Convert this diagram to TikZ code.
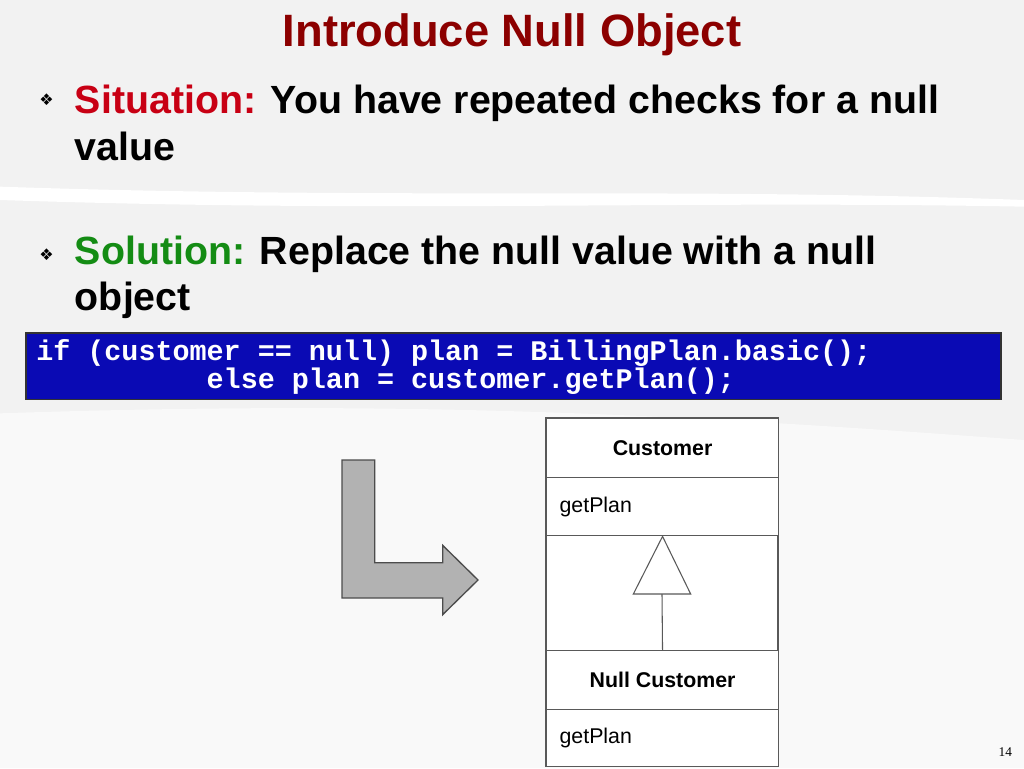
\documentclass[tikz,border=0pt]{standalone}
\usepackage{fontspec}
\setmainfont{Liberation Sans}
\newfontfamily\codefont{Liberation Mono}
\newfontfamily\symfont{DejaVu Sans}
\newfontfamily\pgfont{Liberation Serif}
\definecolor{titlered}{RGB}{140,0,0}
\definecolor{sitred}{RGB}{200,0,20}
\definecolor{solgreen}{RGB}{20,140,20}
\definecolor{codeblue}{RGB}{10,10,180}
\begin{document}
\begin{tikzpicture}[x=1pt,y=-1pt,
  txt/.style={anchor=base west,inner sep=0pt,font=\fontsize{29.5}{34}\selectfont\bfseries},
  bul/.style={inner sep=0pt,font=\symfont\fontsize{12}{12}\selectfont},
  umlbox/.style={draw=gray!70!black,line width=0.8pt,fill=white},
  uml/.style={font=\fontsize{16}{19}\selectfont,inner sep=0pt}]
\useasboundingbox (0,0) rectangle (768,576);
\fill[gray!10] (0,0) rectangle (768,576);
\fill[white] (0,140) .. controls (300,150) and (500,140) .. (768,150) -- (768,155) .. controls (500,150) and (300,160) .. (0,150) -- cycle;
\fill[gray!5] (0,310) .. controls (300,300) and (500,310) .. (768,330) -- (768,576) -- (0,576) -- cycle;
\node[anchor=base,inner sep=0pt,text=titlered,font=\fontsize{34}{40}\selectfont\bfseries] (title) at (384,35) {Introduce Null Object};
\node[bul] (b1) at (35,75) {❖};
\node[txt] (s1) at (56,85) {\textcolor{sitred}{Situation:} You have repeated checks for a null};
\node[txt] (s2) at (56,120) {value};
\node[bul] (b2) at (35,191) {❖};
\node[txt] (s3) at (56,198) {\textcolor{solgreen}{Solution:} Replace the null value with a null};
\node[txt] (s4) at (56,233) {object};
\node[draw=black!80,line width=1.2pt,fill=codeblue,minimum width=731pt,minimum height=50pt,anchor=north west,inner sep=0pt] (code) at (19,249) {};
\node[anchor=base west,inner sep=0pt,text=white,font=\codefont\fontsize{21.3}{23}\selectfont\bfseries] (c1) at (27,270) {if (customer == null) plan = BillingPlan.basic();};
\node[anchor=base west,inner sep=0pt,text=white,font=\codefont\fontsize{21.3}{23}\selectfont\bfseries] (c2) at (27,291) {\phantom{if (custom}else plan = customer.getPlan();};
\draw[gray!60!black,fill=gray!60,line width=1pt] (256.5,345)--(281,345)--(281,422)--(332,422)--(332,409)--(358.5,435)--(332,461)--(332,448.5)--(256.5,448.5)--cycle;
\draw[umlbox] (409.5,313.5) rectangle (583.5,574.5);
\node[umlbox,minimum width=174pt,minimum height=44pt,anchor=north west,inner sep=0pt] (cust) at (409.5,313.5) {};
\node[uml,font=\fontsize{16}{19}\selectfont\bfseries] at (cust.center) {Customer};
\node[umlbox,minimum width=174pt,minimum height=44pt,anchor=north west,inner sep=0pt] (custm) at (409.5,357.5) {};
\node[uml,anchor=west] at ([xshift=10pt]custm.west) {getPlan};
\node[umlbox,minimum width=174pt,minimum height=44pt,anchor=north west,inner sep=0pt] (nc) at (409.5,487.5) {};
\node[uml,font=\fontsize{16}{19}\selectfont\bfseries] at (nc.center) {Null Customer};
\node[umlbox,minimum width=174pt,minimum height=43pt,anchor=north west,inner sep=0pt] (ncm) at (409.5,531.5) {};
\node[uml,anchor=west] at ([xshift=10pt]ncm.west) {getPlan};
\coordinate (tri) at (496.5,445.5);
\draw[gray!70!black,line width=0.8pt] (nc.north) -- (tri);
\draw[gray!70!black,line width=0.8pt,fill=white] (custm.south) -- (518,445.5) -- (475,445.5) -- cycle;
\node[anchor=base,inner sep=0pt,font=\pgfont\fontsize{10}{12}\selectfont] (pg) at (754,567) {14};
\end{tikzpicture}
\end{document}
